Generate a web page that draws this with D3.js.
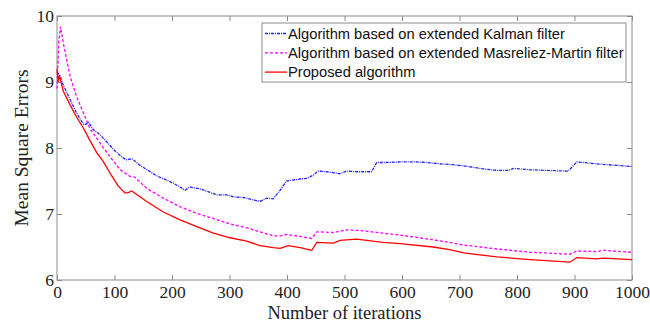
<!DOCTYPE html>
<html>
<head>
<meta charset="utf-8">
<script src="https://cdn.jsdelivr.net/npm/d3@7"></script>
<style>
body { margin: 0; background: #fff; }
</style>
</head>
<body>
<div id="chart"></div>
<script>
var legendNames = ["Algorithm based on extended Kalman filter",
    "Algorithm based on extended Masreliez-Martin filter",
    "Proposed algorithm"]

var kalmanIter = [0,5,11,23,34,46,50,55,63,75,89,98,104,115,121,130,144,173,202,223,231,249,278,295,307,324,353,365,376,388,399,423,434,446,454,469,492,504,521,547,556,573,597,620,643,666,683,707,736,765,785,794,823,852,889,904,915,939,968,1000]
var kalmanMse = [9.15,9.1,8.95,8.73,8.53,8.36,8.36,8.39,8.28,8.2,8.07,7.98,7.93,7.85,7.82,7.84,7.74,7.58,7.47,7.36,7.41,7.38,7.29,7.29,7.26,7.25,7.19,7.24,7.23,7.36,7.5,7.53,7.54,7.59,7.65,7.64,7.61,7.65,7.64,7.64,7.78,7.78,7.79,7.79,7.78,7.76,7.75,7.73,7.69,7.66,7.66,7.69,7.67,7.66,7.65,7.79,7.78,7.76,7.74,7.72]

var mmIter = [0,3,6,11,17,23,34,46,57,69,81,92,110,127,135,156,185,214,243,272,301,330,353,376,390,399,423,443,452,481,504,527,567,597,654,683,707,765,823,892,904,939,950,1000]
var mmMse = [8.9,9.6,9.84,9.59,9.33,9.08,8.78,8.53,8.3,8.15,8.0,7.87,7.67,7.57,7.56,7.39,7.24,7.11,7.01,6.93,6.85,6.79,6.73,6.67,6.67,6.69,6.66,6.63,6.73,6.72,6.76,6.75,6.71,6.68,6.61,6.57,6.53,6.47,6.42,6.39,6.44,6.43,6.45,6.42]

var propIter = [0,2,4,11,23,34,46,57,69,80,95,106,118,123,130,156,185,214,243,272,301,330,353,376,388,402,423,443,452,481,492,521,567,597,654,683,707,765,823,892,904,939,950,1000]
var propMse = [9.2,9.0,9.1,8.86,8.65,8.47,8.3,8.12,7.93,7.8,7.58,7.43,7.32,7.32,7.35,7.19,7.03,6.91,6.81,6.71,6.64,6.59,6.52,6.49,6.48,6.52,6.49,6.45,6.57,6.56,6.6,6.62,6.57,6.55,6.5,6.46,6.41,6.35,6.31,6.27,6.34,6.32,6.33,6.31]

var xTicks = [0,100,200,300,400,500,600,700,800,900,1000]
var yTicks = [6,7,8,9,10]

var width = 650, height = 323
var plotLeft = 57, plotRight = 632, plotTop = 16, plotBottom = 280
var axisColor = "#8c8c8c"
var serif = "'Liberation Serif', 'Times New Roman', serif"

var svg = d3.select("#chart").append("svg")
    .attr("width", width)
    .attr("height", height)

var x = d3.scaleLinear().domain([0, 1000]).range([plotLeft, plotRight])
var y = d3.scaleLinear().domain([6, 10]).range([plotBottom, plotTop])

// frame
svg.append("rect")
    .attr("x", plotLeft).attr("y", plotTop)
    .attr("width", plotRight - plotLeft).attr("height", plotBottom - plotTop)
    .attr("fill", "none").attr("stroke", axisColor).attr("stroke-width", 1)

function styleAxis(g) {
    g.select(".domain").remove()
    g.selectAll(".tick line").attr("stroke", axisColor)
    g.selectAll(".tick text")
        .attr("fill", "#222")
        .style("font-family", serif)
        .style("font-size", "17.5px")
}

svg.append("g").attr("transform", "translate(0," + plotBottom + ")")
    .call(d3.axisBottom(x).tickValues(xTicks).tickSize(-5).tickPadding(6).tickFormat(d3.format("d")))
    .call(styleAxis)
svg.append("g").attr("transform", "translate(0," + plotTop + ")")
    .call(d3.axisTop(x).tickValues(xTicks).tickSize(-5).tickFormat(""))
    .call(styleAxis)
svg.append("g").attr("transform", "translate(" + plotLeft + ",0)")
    .call(d3.axisLeft(y).tickValues(yTicks).tickSize(-5).tickPadding(3).tickFormat(d3.format("d")))
    .call(styleAxis)
svg.append("g").attr("transform", "translate(" + plotRight + ",0)")
    .call(d3.axisRight(y).tickValues(yTicks).tickSize(-5).tickFormat(""))
    .call(styleAxis)

// labels
svg.append("text")
    .attr("x", (plotLeft + plotRight) / 2).attr("y", 319)
    .attr("text-anchor", "middle")
    .style("font-family", serif)
    .style("font-size", "18.5px").attr("fill", "#222")
    .text("Number of iterations")
svg.append("text")
    .attr("transform", "translate(28," + ((plotTop + plotBottom) / 2) + ") rotate(-90)")
    .attr("text-anchor", "middle")
    .style("font-family", serif)
    .style("font-size", "19.5px").attr("fill", "#222")
    .text("Mean Square Errors")

// curves
var series = [
    {it: kalmanIter, v: kalmanMse, color: "#2020ff", dash: "3,1,1,1"},
    {it: mmIter, v: mmMse, color: "#ff00ff", dash: "3,2"},
    {it: propIter, v: propMse, color: "#ff0000", dash: null}
]

var line = d3.line()
    .x(function(d) { return x(d[0]) })
    .y(function(d) { return y(d[1]) })

series.forEach(function(s) {
    var pts = s.it.map(function(d, i) { return [d, s.v[i]] })
    svg.append("path")
        .datum(pts)
        .attr("d", line)
        .attr("fill", "none")
        .attr("stroke", s.color)
        .attr("stroke-width", 1.3)
        .attr("stroke-dasharray", s.dash)
})

// legend
var lg = svg.append("g")
lg.append("rect")
    .attr("x", 262).attr("y", 23).attr("width", 364).attr("height", 59)
    .attr("fill", "#fff").attr("stroke", axisColor).attr("stroke-width", 1)

series.forEach(function(s, i) {
    var yy = 33.5 + i * 19.3
    lg.append("line")
        .attr("x1", 265).attr("x2", 287).attr("y1", yy).attr("y2", yy)
        .attr("stroke", s.color).attr("stroke-width", 1.3)
        .attr("stroke-dasharray", s.dash)
    lg.append("text")
        .attr("x", 288).attr("y", yy + 5)
        .style("font-family", "'Liberation Sans', Arial, sans-serif")
        .style("font-size", "14.7px").attr("fill", "#111")
        .text(legendNames[i])
})
</script>
</body>
</html>
